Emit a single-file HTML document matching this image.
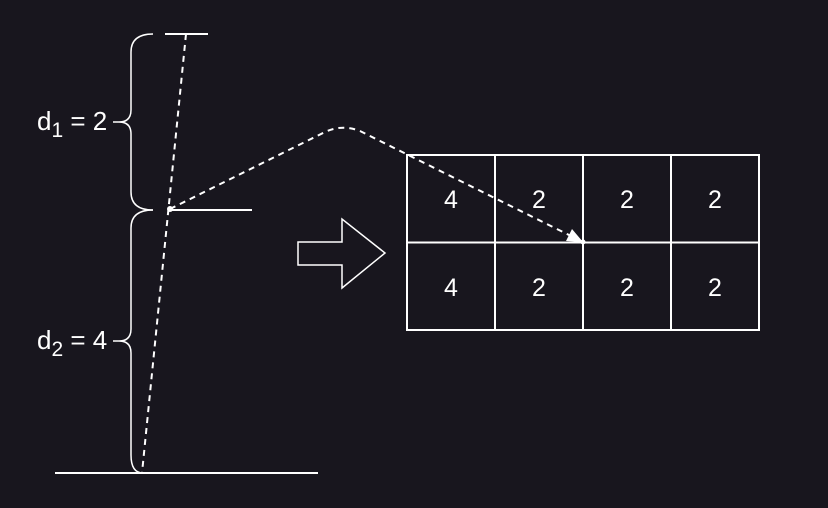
<!DOCTYPE html>
<html><head><meta charset="utf-8"><style>
html,body{margin:0;padding:0;background:#18161e;}
svg{display:block}
text{font-family:"Liberation Sans",sans-serif;fill:#fff;}
.lbl{font-size:26px;}
.sub{font-size:21px;}
.cell{font-size:25px;}
</style></head><body>
<svg width="828" height="508" viewBox="0 0 828 508">
<rect width="828" height="508" fill="#18161e"/>
<g stroke="#fff" stroke-width="2" fill="none">
<line x1="165" y1="34" x2="208" y2="34"/>
<line x1="168" y1="210" x2="252" y2="210"/>
<line x1="55" y1="473" x2="318" y2="473"/>
<path d="M153,34 Q131,34 131,52 L131,110 Q131,122 119,122 L113,122 M119,122 Q131,122 131,134 L131,192 Q131,210 153,210" stroke-width="1.5"/>
<path d="M153,210 Q131,210 131,228 L131,329 Q131,341 119,341 L113,341 M119,341 Q131,341 131,353 L131,455 Q131,473 143,473" stroke-width="1.5"/>
<line x1="186" y1="34" x2="142" y2="473" stroke-dasharray="6,5"/>
<path d="M170,209 L325,132 Q342,124 360,131 L575,238" stroke-dasharray="6,5"/>
<path d="M298,242 L342,242 L342,219 L385,253 L342,288 L342,265 L298,265 Z" stroke-width="1.5"/>
<rect x="407" y="155" width="352" height="175"/>
<line x1="495" y1="155" x2="495" y2="330"/>
<line x1="583" y1="155" x2="583" y2="330"/>
<line x1="671" y1="155" x2="671" y2="330"/>
<line x1="407" y1="242.5" x2="759" y2="242.5"/>
</g>
<circle cx="170" cy="209" r="3" fill="#fff"/>
<circle cx="583" cy="242" r="2.5" fill="#fff"/>
<path d="M583,242 L566,241 L572,229 Z" fill="#fff"/>
<text x="37" y="130" class="lbl">d<tspan class="sub" dy="7">1</tspan><tspan dy="-7"> = 2</tspan></text>
<text x="37" y="349" class="lbl">d<tspan class="sub" dy="7">2</tspan><tspan dy="-7"> = 4</tspan></text>
<g class="cell" text-anchor="middle">
<text x="451" y="208">4</text><text x="539" y="208">2</text><text x="627" y="208">2</text><text x="715" y="208">2</text>
<text x="451" y="296">4</text><text x="539" y="296">2</text><text x="627" y="296">2</text><text x="715" y="296">2</text>
</g>
</svg>
</body></html>
